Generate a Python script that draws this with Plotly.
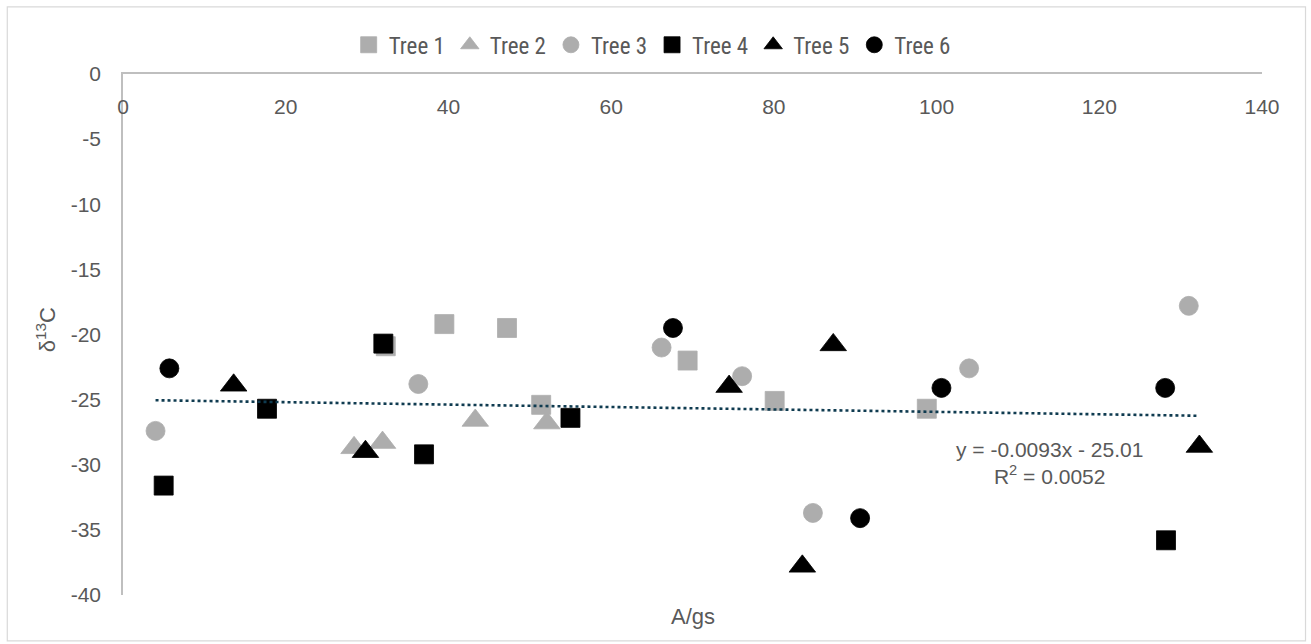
import plotly.graph_objects as go

# ---- data ----
tree1_x = [32.3, 39.5, 47.2, 51.4, 69.4, 80.1, 98.8]
tree1_y = [-20.9, -19.2, -19.5, -25.4, -22.0, -25.1, -25.7]

tree2_x = [28.4, 31.9, 43.3, 52.1]
tree2_y = [-28.7, -28.3, -26.6, -26.8]

tree3_x = [4.0, 36.3, 66.2, 76.1, 84.8, 104.0, 131.0]
tree3_y = [-27.4, -23.8, -21.0, -23.2, -33.7, -22.6, -17.8]

tree4_x = [5.0, 17.7, 32.0, 37.0, 55.0, 128.2]
tree4_y = [-31.6, -25.7, -20.7, -29.2, -26.4, -35.8]

tree5_x = [13.6, 29.8, 74.5, 83.5, 87.3, 132.3]
tree5_y = [-23.9, -29.0, -24.0, -37.8, -20.8, -28.6]

tree6_x = [5.7, 67.6, 90.6, 100.6, 128.1]
tree6_y = [-22.6, -19.5, -34.1, -24.1, -24.1]

series_names = ["Tree 1", "Tree 2", "Tree 3", "Tree 4", "Tree 5", "Tree 6"]

trend_slope = -0.0093
trend_intercept = -25.01
trend_r2 = 0.0052

x_tick_vals = [0, 20, 40, 60, 80, 100, 120, 140]
x_tick_text = ["0", "20", "40", "60", "80", "100", "120", "140"]
y_tick_vals = [0, -5, -10, -15, -20, -25, -30, -35, -40]
y_tick_text = ["0", "-5", "-10", "-15", "-20", "-25", "-30", "-35", "-40"]

# ---- styling ----
GRAY = "#ADADAD"
BLACK = "#000000"
TREND = "#0F3B50"
TXT = "#595959"
AXIS = "#BFBFBF"
FONT = "Liberation Sans, Arial, sans-serif"
NARROW = "Liberation Sans Narrow, Arial Narrow, Roboto Condensed, Liberation Sans, sans-serif"

series = [
    (tree1_x, tree1_y, "square", GRAY),
    (tree2_x, tree2_y, "triangle-up", GRAY),
    (tree3_x, tree3_y, "circle", GRAY),
    (tree4_x, tree4_y, "square", BLACK),
    (tree5_x, tree5_y, "triangle-up", BLACK),
    (tree6_x, tree6_y, "circle", BLACK),
]

fig = go.Figure()
for name, (xs, ys, sym, col) in zip(series_names, series):
    size = 23 if sym == "triangle-up" else 19
    fig.add_trace(go.Scatter(
        x=xs, y=ys, mode="markers", name=name,
        marker=dict(symbol=sym, size=size, color=col,
                    line=dict(width=0.8, color=col)),
    ))

all_x = tree1_x + tree2_x + tree3_x + tree4_x + tree5_x + tree6_x
tx = [min(all_x), max(all_x)]
ty = [trend_slope * v + trend_intercept for v in tx]
# trendline drawn on the overlay x axis (which mirrors the main x axis)
fig.add_trace(go.Scatter(
    x=tx, y=ty, mode="lines", showlegend=False, hoverinfo="skip",
    xaxis="x2", yaxis="y",
    line=dict(color=TREND, width=2.6, dash="dot"),
))

fig.add_annotation(
    x=113.9, y=-29.9, xref="x", yref="y",
    text=f"y = {trend_slope}x - {abs(trend_intercept)}<br>R<sup>2</sup> = {trend_r2}",
    showarrow=False, align="center",
    font=dict(family=FONT, size=21, color=TXT),
)

# axis titles
fig.add_annotation(x=0.5, y=-0.042, xref="paper", yref="paper",
                   text="A/gs", showarrow=False, xanchor="center", yanchor="middle",
                   font=dict(family=FONT, size=22, color=TXT))
fig.add_annotation(x=-0.068, y=0.509, xref="paper", yref="paper",
                   text="δ<sup>13</sup>C", textangle=-90, showarrow=False,
                   xanchor="center", yanchor="middle",
                   font=dict(family=FONT, size=22, color=TXT))

# chart border
fig.add_shape(type="rect", xref="paper", yref="paper",
              x0=-0.1016, x1=1.0382, y0=-0.088, y1=1.129,
              line=dict(color="#D9D9D9", width=1.2), fillcolor="rgba(0,0,0,0)")

fig.update_layout(
    width=1311, height=644,
    margin=dict(l=123, r=49, t=74, b=49),
    paper_bgcolor="white", plot_bgcolor="white",
    font=dict(family=FONT, size=21, color=TXT),
    showlegend=True,
    legend=dict(orientation="h", x=0.4646, xanchor="center", y=1.056, yanchor="middle",
                font=dict(family=NARROW, size=23, color=TXT),
                itemclick=False, tracegroupgap=0, bgcolor="rgba(0,0,0,0)"),
    # main x axis: the line along y = 0 at the top of the plot
    xaxis=dict(range=[0, 140], side="top", tickvals=x_tick_vals,
               showticklabels=False,
               showgrid=False, zeroline=False, showline=True, linecolor=AXIS, linewidth=1.5,
               ticks=""),
    # overlay x axis carrying the tick labels just below the top line
    xaxis2=dict(matches="x", overlaying="x", anchor="free", position=1, side="bottom",
                range=[0, 140], tickvals=x_tick_vals, ticktext=x_tick_text,
                showgrid=False, zeroline=False, showline=False, ticks="",
                ticklabelstandoff=18,
                tickfont=dict(family=FONT, size=21, color=TXT)),
    yaxis=dict(range=[-40, 0], tickvals=y_tick_vals, ticktext=y_tick_text,
               showgrid=False, zeroline=False, showline=True, linecolor=AXIS, linewidth=1.5,
               ticks="", ticklabelstandoff=16,
               tickfont=dict(family=FONT, size=21, color=TXT)),
)

fig.write_html("out.html")
